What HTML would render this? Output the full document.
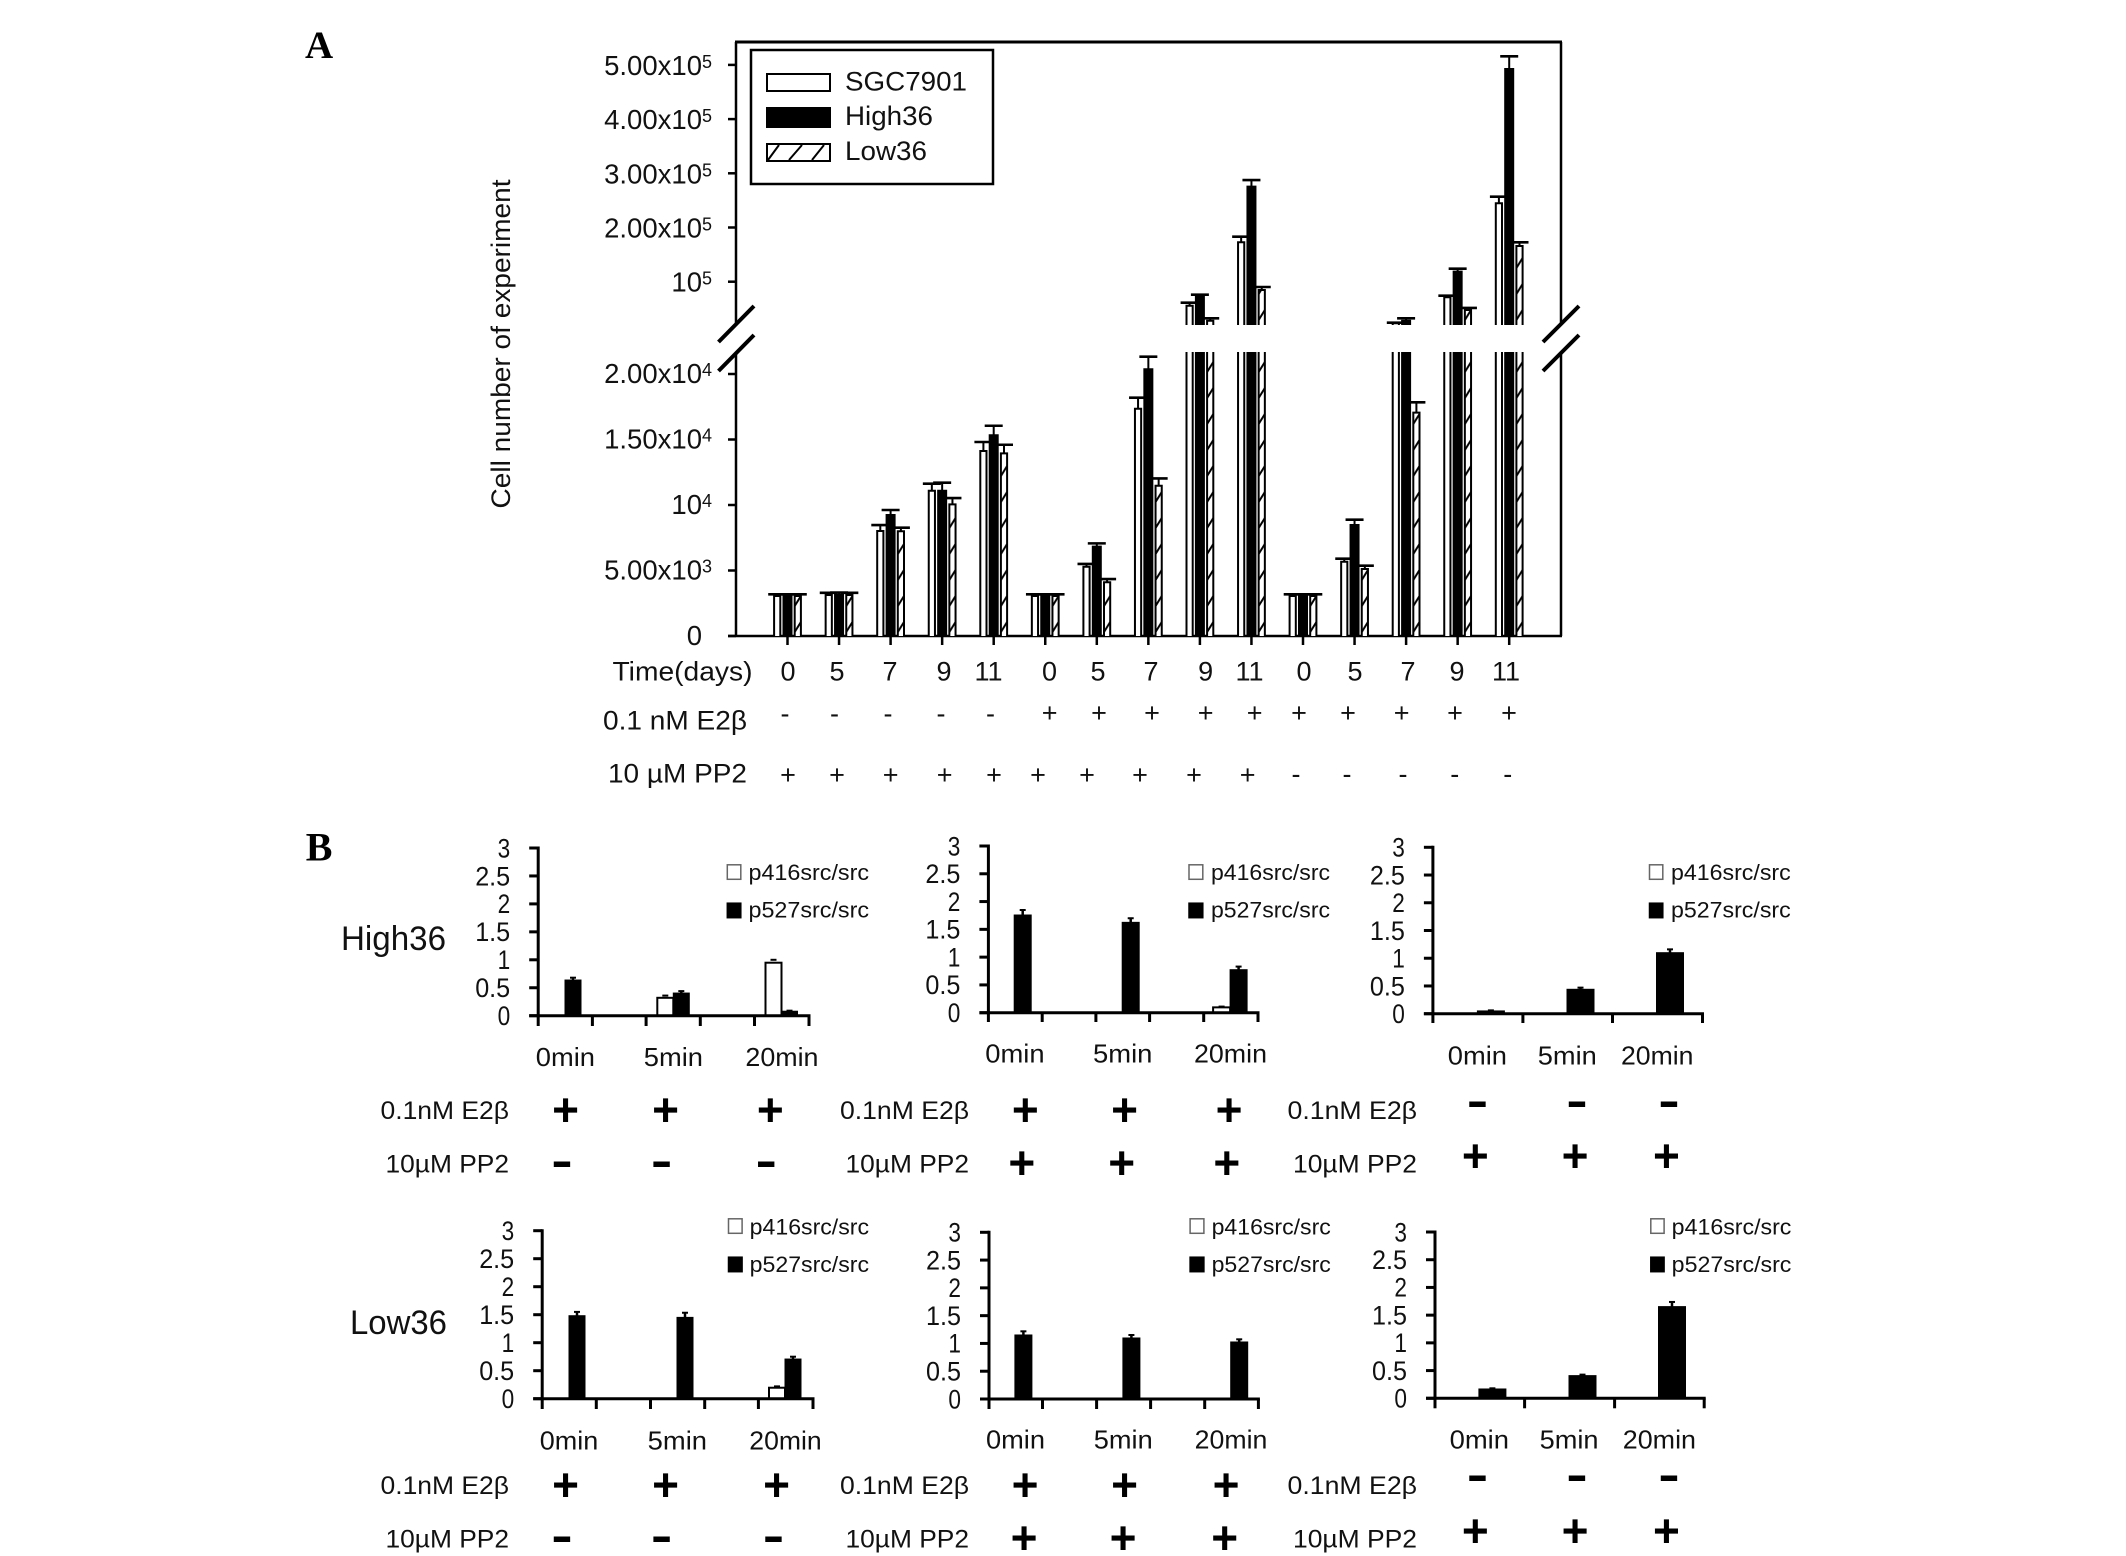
<!DOCTYPE html>
<html lang="en">
<head>
<meta charset="utf-8">
<title>Cell number and Src phosphorylation charts</title>
<style>
html,body{margin:0;padding:0;background:#fff;}
svg{display:block;font-family:"Liberation Sans",Arial,sans-serif;fill:#111;}
.p{font-size:27px;text-anchor:middle;}
.h{font-size:27px;text-anchor:middle;}
.pb{font-size:46px;font-weight:bold;text-anchor:middle;fill:#000;}
.mb{font-size:46px;font-weight:bold;text-anchor:middle;fill:#000;}
.lab{font-size:25px;}
.lt{font-size:22.5px;}
.pl{font-family:"Liberation Serif",serif;font-weight:bold;fill:#000;}
</style>
</head>
<body>
<svg id="fig" width="2126" height="1556" viewBox="0 0 2126 1556">
<rect x="0" y="0" width="2126" height="1556" fill="#fff"/>
<defs id="defs"></defs>

<text class="pl" x="305" y="58" font-size="39">A</text>
<text class="pl" x="305.7" y="860.7" font-size="40">B</text>

<text transform="rotate(-90 510 344)" x="510" y="344" font-size="26.5" text-anchor="middle" textLength="329" lengthAdjust="spacingAndGlyphs">Cell number of experiment</text>

<g id="panelA"></g>

<g>
<rect x="751" y="50" width="242" height="134" fill="#fff" stroke="#000" stroke-width="2.5"/>
<rect x="767" y="74" width="63" height="17" fill="#fff" stroke="#000" stroke-width="2"/>
<rect x="767" y="108" width="63" height="19" fill="#000" stroke="#000" stroke-width="2"/>
<rect x="767" y="144" width="63" height="17" fill="#fff" stroke="#000" stroke-width="2"/>
<path d="M768 160L779 145M789 160L802 145M812 160L824 145" stroke="#000" stroke-width="2" fill="none"/>
<text x="845" y="90.7" font-size="27" textLength="122" lengthAdjust="spacingAndGlyphs">SGC7901</text>
<text x="845" y="125" font-size="27" textLength="88" lengthAdjust="spacingAndGlyphs">High36</text>
<text x="845" y="160" font-size="27" textLength="82" lengthAdjust="spacingAndGlyphs">Low36</text>
</g>

<g font-size="27">
<text x="612.5" y="680.7" textLength="140" lengthAdjust="spacingAndGlyphs">Time(days)</text>
<text class="p" x="788" y="680.7">0</text>
<text class="p" x="837" y="680.7">5</text>
<text class="p" x="890" y="680.7">7</text>
<text class="p" x="944" y="680.7">9</text>
<text class="p" x="988.5" y="680.7">11</text>
<text class="p" x="1049.5" y="680.7">0</text>
<text class="p" x="1098" y="680.7">5</text>
<text class="p" x="1151" y="680.7">7</text>
<text class="p" x="1205.7" y="680.7">9</text>
<text class="p" x="1249.5" y="680.7">11</text>
<text class="p" x="1304" y="680.7">0</text>
<text class="p" x="1355" y="680.7">5</text>
<text class="p" x="1408" y="680.7">7</text>
<text class="p" x="1457" y="680.7">9</text>
<text class="p" x="1506" y="680.7">11</text>
</g>

<g>
<text x="603" y="729.3" font-size="27" textLength="144" lengthAdjust="spacingAndGlyphs">0.1 nM E2β</text>
<text class="h" x="785" y="722.5">-</text>
<text class="h" x="834.5" y="722.5">-</text>
<text class="h" x="888" y="722.5">-</text>
<text class="h" x="941" y="722.5">-</text>
<text class="h" x="990.5" y="722.5">-</text>
<text class="p" x="1049.7" y="722">+</text>
<text class="p" x="1099" y="722">+</text>
<text class="p" x="1152" y="722">+</text>
<text class="p" x="1205.7" y="722">+</text>
<text class="p" x="1254.6" y="722">+</text>
<text class="p" x="1299" y="722">+</text>
<text class="p" x="1348" y="722">+</text>
<text class="p" x="1401.7" y="722">+</text>
<text class="p" x="1455" y="722">+</text>
<text class="p" x="1509" y="722">+</text>
</g>

<g>
<text x="608" y="782.7" font-size="27" textLength="139" lengthAdjust="spacingAndGlyphs">10 µM PP2</text>
<text class="p" x="788" y="783.8">+</text>
<text class="p" x="837" y="783.8">+</text>
<text class="p" x="890.6" y="783.8">+</text>
<text class="p" x="944.7" y="783.8">+</text>
<text class="p" x="994" y="783.8">+</text>
<text class="p" x="1038" y="783.8">+</text>
<text class="p" x="1087" y="783.8">+</text>
<text class="p" x="1140" y="783.8">+</text>
<text class="p" x="1194" y="783.8">+</text>
<text class="p" x="1247.7" y="783.8">+</text>
<text class="h" x="1296" y="783.2">-</text>
<text class="h" x="1347" y="783.2">-</text>
<text class="h" x="1403" y="783.2">-</text>
<text class="h" x="1454.7" y="783.2">-</text>
<text class="h" x="1507.7" y="783.2">-</text>
</g>

<text x="341" y="950" font-size="34" textLength="105" lengthAdjust="spacingAndGlyphs">High36</text>
<text x="350" y="1334" font-size="34" textLength="97" lengthAdjust="spacingAndGlyphs">Low36</text>

<g id="panelB"></g>

<g>
<text class="lab" x="380.5" y="1119" textLength="128.5" lengthAdjust="spacingAndGlyphs">0.1nM E2β</text>
<text class="lab" x="385.5" y="1172.7" textLength="123.5" lengthAdjust="spacingAndGlyphs">10µM PP2</text>
<text class="pb" x="565.5" y="1125.3">+</text>
<text class="pb" x="665.5" y="1125.3">+</text>
<text class="pb" x="770.3" y="1125.3">+</text>
<text class="mb" x="562" y="1176.3" textLength="21.5" lengthAdjust="spacingAndGlyphs">-</text>
<text class="mb" x="661.6" y="1176.3" textLength="21.5" lengthAdjust="spacingAndGlyphs">-</text>
<text class="mb" x="766.3" y="1176.3" textLength="21.5" lengthAdjust="spacingAndGlyphs">-</text>

<text class="lab" x="840" y="1119" textLength="129" lengthAdjust="spacingAndGlyphs">0.1nM E2β</text>
<text class="lab" x="845.5" y="1172.7" textLength="123.5" lengthAdjust="spacingAndGlyphs">10µM PP2</text>
<text class="pb" x="1025.3" y="1125.3">+</text>
<text class="pb" x="1124.5" y="1125.3">+</text>
<text class="pb" x="1229" y="1125.3">+</text>
<text class="pb" x="1021.8" y="1178.7">+</text>
<text class="pb" x="1121.7" y="1178.7">+</text>
<text class="pb" x="1226.8" y="1178.7">+</text>

<text class="lab" x="1287.5" y="1119" textLength="129.5" lengthAdjust="spacingAndGlyphs">0.1nM E2β</text>
<text class="lab" x="1293" y="1172.7" textLength="124" lengthAdjust="spacingAndGlyphs">10µM PP2</text>
<text class="mb" x="1477.5" y="1116.3" textLength="21.5" lengthAdjust="spacingAndGlyphs">-</text>
<text class="mb" x="1577" y="1116.3" textLength="21.5" lengthAdjust="spacingAndGlyphs">-</text>
<text class="mb" x="1669" y="1116.3" textLength="21.5" lengthAdjust="spacingAndGlyphs">-</text>
<text class="pb" x="1475.3" y="1171.7">+</text>
<text class="pb" x="1575" y="1171.7">+</text>
<text class="pb" x="1666.4" y="1171.7">+</text>
</g>

<g>
<text class="lab" x="380.5" y="1494" textLength="128.5" lengthAdjust="spacingAndGlyphs">0.1nM E2β</text>
<text class="lab" x="385.5" y="1547.7" textLength="123.5" lengthAdjust="spacingAndGlyphs">10µM PP2</text>
<text class="pb" x="565.5" y="1500.3">+</text>
<text class="pb" x="665.5" y="1500.3">+</text>
<text class="pb" x="776.6" y="1500.3">+</text>
<text class="mb" x="562" y="1551.3" textLength="21.5" lengthAdjust="spacingAndGlyphs">-</text>
<text class="mb" x="661.6" y="1551.3" textLength="21.5" lengthAdjust="spacingAndGlyphs">-</text>
<text class="mb" x="773.5" y="1551.3" textLength="21.5" lengthAdjust="spacingAndGlyphs">-</text>

<text class="lab" x="840" y="1494" textLength="129" lengthAdjust="spacingAndGlyphs">0.1nM E2β</text>
<text class="lab" x="845.5" y="1547.7" textLength="123.5" lengthAdjust="spacingAndGlyphs">10µM PP2</text>
<text class="pb" x="1025" y="1500.3">+</text>
<text class="pb" x="1124.5" y="1500.3">+</text>
<text class="pb" x="1226" y="1500.3">+</text>
<text class="pb" x="1024" y="1553.7">+</text>
<text class="pb" x="1123" y="1553.7">+</text>
<text class="pb" x="1224.7" y="1553.7">+</text>

<text class="lab" x="1287.5" y="1494" textLength="129.5" lengthAdjust="spacingAndGlyphs">0.1nM E2β</text>
<text class="lab" x="1293" y="1547.7" textLength="124" lengthAdjust="spacingAndGlyphs">10µM PP2</text>
<text class="mb" x="1477.5" y="1490.7" textLength="21.5" lengthAdjust="spacingAndGlyphs">-</text>
<text class="mb" x="1577" y="1490.7" textLength="21.5" lengthAdjust="spacingAndGlyphs">-</text>
<text class="mb" x="1669" y="1490.7" textLength="21.5" lengthAdjust="spacingAndGlyphs">-</text>
<text class="pb" x="1475.3" y="1546.7">+</text>
<text class="pb" x="1575" y="1546.7">+</text>
<text class="pb" x="1666.4" y="1546.7">+</text>
</g>
</svg>

<script>
/* Panel A data: 15 groups */
const sgcMean  = [3050,3130,8015,11090,14120,3050,5290,17350,55720,172700,3050,5670,23250,71200,244700];
const sgcCap   = [3180,3300,8470,11630,14810,3180,5500,18190,61250,183000,3180,5900,24400,74200,256800];
const highMean = [3050,3130,9237,11090,15320,3050,6820,20360,72320,275300,3050,8470,28000,118500,492400];
const highCap  = [3180,3320,9618,11700,16050,3180,7070,21320,76000,287600,3180,8880,32500,124000,515800];
const lowMean  = [3050,3130,7992,10050,13940,3050,4100,11470,28000,84700,3050,5110,17050,47800,165900];
const lowCap   = [3180,3300,8270,10530,14600,3180,4350,12030,32500,90200,3180,5370,17840,51500,172700];
const lowerTicks = [0,5000,10000,15000,20000];
const lowerBaseLabels = ['0','5.00x10','10','1.50x10','2.00x10'];
const lowerExpLabels = ['','3','4','4','4'];
const upperTicks = [100000,200000,300000,400000,500000];
const upperBaseLabels = ['10','2.00x10','3.00x10','4.00x10','5.00x10'];
const upperExpLabels = ['5','5','5','5','5'];

/* Panel B data */
const bTicks = [0,0.5,1,1.5,2,2.5,3];
const bTickLabels = ['0','0.5','1','1.5','2','2.5','3'];
const bCategories = ['0min','5min','20min'];
const legendEntries = ['p416src/src','p527src/src'];
const highA416 = [0,0.32,0.948];
const highA416Err = [0,0.36,1.0];
const highA527 = [0.638,0.405,0.08];
const highA527Err = [0.68,0.44,0.09];
const highB416 = [0,0,0.096];
const highB416Err = [0,0,0.11];
const highB527 = [1.758,1.626,0.774];
const highB527Err = [1.848,1.70,0.83];
const highC416 = [0,0,0];
const highC416Err = [0,0,0];
const highC527 = [0.05,0.44,1.10];
const highC527Err = [0.06,0.47,1.16];
const lowA416 = [0,0,0.196];
const lowA416Err = [0,0,0.22];
const lowA527 = [1.482,1.452,0.708];
const lowA527Err = [1.55,1.535,0.75];
const lowB416 = [0,0,0];
const lowB416Err = [0,0,0];
const lowB527 = [1.152,1.098,1.026];
const lowB527Err = [1.218,1.152,1.074];
const lowC416 = [0,0,0];
const lowC416Err = [0,0,0];
const lowC527 = [0.168,0.409,1.654];
const lowC527Err = [0.18,0.427,1.738];

const NS = 'http://www.w3.org/2000/svg';
function mk(parent, tag, attrs, text){
  const el = document.createElementNS(NS, tag);
  for (const k in attrs) el.setAttribute(k, attrs[k]);
  if (text !== undefined) el.textContent = text;
  parent.appendChild(el);
  return el;
}

/* ---------- Panel A ---------- */
const AX = {left:736, right:1561, top:42, base:636, breakLow:352, breakHigh:325, first:787.5, step:51.55, off:10.3};
const breakValue = 21700;
function yLower(v){ return AX.base - v*65.5/5000; }
function yUpper(v){ return 281.7 - (v-100000)*54.2/100000; }
function yA(v){ return v <= breakValue ? yLower(v) : yUpper(v); }
function xGroup(i){ return AX.first + AX.step*i; }

const A = document.getElementById('panelA');
const defs = document.getElementById('defs');

function aLine(name, x1, y1, x2, y2, sw){
  const el = mk(A, 'line', {x1:x1, y1:y1, x2:x2, y2:y2, stroke:'#000', 'stroke-width':sw});
  
  
  return el;
}
aLine('plot-top-border', AX.left-1, AX.top, AX.right+1, AX.top, 3);
aLine('y-axis-upper', AX.left, AX.top, AX.left, AX.breakHigh, 2.5);
aLine('y-axis-lower', AX.left, AX.breakLow, AX.left, AX.base, 2.5);
aLine('right-border-upper', AX.right, AX.top, AX.right, AX.breakHigh, 2.5);
aLine('right-border-lower', AX.right, AX.breakLow, AX.right, AX.base, 2.5);
aLine('x-axis', 728, AX.base, AX.right+1, AX.base, 2.5);
aLine('left-break-mark-upper', 718.5, 342, 754, 306, 4);
aLine('left-break-mark-lower', 718.5, 371, 754, 335, 4);
aLine('right-break-mark-upper', 1543, 342, 1579, 306, 4);
aLine('right-break-mark-lower', 1543, 371, 1579, 335, 4);

function aTick(yPos, base, exp, dy){
  aLine('y-tick', 728, yPos, AX.left, yPos, 2.5);
  const t = mk(A, 'text', {x: exp ? 702 : 702, y: yPos+dy, 'font-size':27.5, 'text-anchor':'end'}, base);
  
  
  if (exp) {
    const s = mk(A, 'text', {x: 702, y: yPos+dy-7, 'font-size':18}, exp);
    
    
  }
}
lowerTicks.forEach(function(v,i){ aTick(yLower(v), lowerBaseLabels[i], lowerExpLabels[i], 9); });
upperTicks.forEach(function(v,i){ aTick(yUpper(v), upperBaseLabels[i], upperExpLabels[i], 10); });

for (let i = 0; i < sgcMean.length; i++) {
  aLine('x-tick', xGroup(i), AX.base, xGroup(i), 645, 2.5);
}

function drawBar(name, i, s, mean, cap, kind){
  const w = kind === 'black' ? 8 : 6.2;
  const xc = xGroup(i) + (s-1)*AX.off;
  const xl = xc - w/2;
  let fill = kind === 'black' ? '#000' : '#fff';
  if (kind === 'hatch') {
    const pat = mk(defs, 'pattern', {id:'h'+i, patternUnits:'userSpaceOnUse', x:xl, y:AX.base, width:w, height:26});
    
    
    const bg = mk(pat, 'rect', {x:0, y:0, width:w, height:26, fill:'#fff'});
    
    
    const sl = mk(pat, 'line', {x1:0, y1:22, x2:w, y2:12, stroke:'#000', 'stroke-width':2});
    
    
    fill = 'url(#h'+i+')';
  }
  const top = yA(mean);
  let d, fillPath;
  if (mean > breakValue) {
    d = 'M'+xl+' '+AX.base+'V'+AX.breakLow+'M'+(xl+w)+' '+AX.breakLow+'V'+AX.base+
        'M'+xl+' '+AX.breakHigh+'V'+top+'H'+(xl+w)+'V'+AX.breakHigh;
    fillPath = 'M'+xl+' '+AX.base+'V'+AX.breakLow+'H'+(xl+w)+'V'+AX.base+'Z'+
               'M'+xl+' '+AX.breakHigh+'V'+top+'H'+(xl+w)+'V'+AX.breakHigh+'Z';
  } else {
    d = 'M'+xl+' '+AX.base+'V'+top+'H'+(xl+w)+'V'+AX.base;
    fillPath = d+'Z';
  }
  const f = mk(A, 'path', {d:fillPath, fill:fill, stroke:'none'});
  
  
  const o = mk(A, 'path', {d:d, fill:'none', stroke:'#000', 'stroke-width':2});
  
  
  const yc = yA(cap);
  aLine(name+'-error-stem', xc, top, xc, yc, 2);
  aLine(name+'-error-cap', xc-9, yc, xc+9, yc, 2.6);
}
for (let i = 0; i < sgcMean.length; i++) {
  drawBar('sgc7901', i, 0, sgcMean[i], sgcCap[i], 'white');
  drawBar('high36', i, 1, highMean[i], highCap[i], 'black');
  drawBar('low36', i, 2, lowMean[i], lowCap[i], 'hatch');
}

/* ---------- Panel B ---------- */
const B = document.getElementById('panelB');
const panels = [
 {id:'high36-e2', axis:538.2, y0:1015.7, y3:848, xTicks:[538.2,592.4,646.1,700.3,754.5,809], tickEnd:1026, centers:[573,681.3,789.5], w:16,
  catBase:1066, catSpans:[[535.8,595],[643.8,703],[745.4,818.5]],
  legSq:726.8, legSqW:14.5, legX:748.5, legW:120.5, legY:[864.3,902.7], legBase:[880,917.7],
  white:highA416, whiteErr:highA416Err, black:highA527, blackErr:highA527Err},
 {id:'high36-e2-pp2', axis:988.4, y0:1012.7, y3:846, xTicks:[988.4,1042.2,1095.9,1149.6,1203.7,1258], tickEnd:1022, centers:[1022.7,1130.7,1238.6], w:17,
  catBase:1062.7, catSpans:[[985.3,1044.6],[1093,1152.4],[1194,1267]],
  legSq:1188.5, legSqW:14.8, legX:1211, legW:119, legY:[864.3,902.7], legBase:[880,917.7],
  white:highB416, whiteErr:highB416Err, black:highB527, blackErr:highB527Err},
 {id:'high36-pp2', axis:1432.9, y0:1013.7, y3:847.3, xTicks:[1432.9,1522.9,1612.5,1702.5], tickEnd:1023, centers:[1490.9,1580.5,1670], w:27,
  catBase:1064.3, catSpans:[[1447.8,1507],[1537.8,1596.8],[1621,1693.5]],
  legSq:1649, legSqW:14.3, legX:1671, legW:119.7, legY:[864.3,902.7], legBase:[880,917.7],
  white:highC416, whiteErr:highC416Err, black:highC527, blackErr:highC527Err},
 {id:'low36-e2', axis:542.2, y0:1398.7, y3:1230.7, xTicks:[542.2,596.3,650.5,704.7,758.4,813], tickEnd:1409, centers:[577,685,793], w:16,
  catBase:1449.3, catSpans:[[539.8,598.3],[647.7,707],[749.3,821.7]],
  legSq:728, legSqW:14.6, legX:749.7, legW:119.3, legY:[1218.3,1256.7], legBase:[1234.3,1272],
  white:lowA416, whiteErr:lowA416Err, black:lowA527, blackErr:lowA527Err},
 {id:'low36-e2-pp2', axis:989, y0:1399, y3:1232.3, xTicks:[989,1042.5,1096.6,1150.6,1204.7,1258.4], tickEnd:1409, centers:[1023.4,1131.4,1239.2], w:17,
  catBase:1448.7, catSpans:[[986,1045],[1093.8,1152.7],[1194.7,1267.4]],
  legSq:1189.6, legSqW:14.8, legX:1211.6, legW:119.2, legY:[1218.3,1256.7], legBase:[1234.3,1272],
  white:lowB416, whiteErr:lowB416Err, black:lowB527, blackErr:lowB527Err},
 {id:'low36-pp2', axis:1435, y0:1398.3, y3:1232, xTicks:[1435,1524.6,1614.6,1704.2], tickEnd:1408.3, centers:[1492.4,1582.5,1672], w:27,
  catBase:1448.3, catSpans:[[1449.6,1509],[1539.6,1598.5],[1622.8,1696]],
  legSq:1650.3, legSqW:14.3, legX:1671.7, legW:119.7, legY:[1218.3,1256.7], legBase:[1234.3,1272],
  white:lowC416, whiteErr:lowC416Err, black:lowC527, blackErr:lowC527Err}
];

function bLine(g, name, x1, y1, x2, y2, sw){
  const el = mk(g, 'line', {x1:x1, y1:y1, x2:x2, y2:y2, stroke:'#000', 'stroke-width':sw});
  
  
  return el;
}

function drawPanel(p){
  const g = mk(B, 'g', {});
  
  
  const y = function(v){ return p.y0 + (p.y3-p.y0)*v/3; };

  function bar(name, xl, v, err, fill){
    const top = y(v);
    const r = mk(g, 'rect', {x:xl, y:top, width:p.w, height:Math.max(p.y0-top,0), fill:fill, stroke:'#000', 'stroke-width':fill==='#000'?1:2});
    
    
    if (err > v) {
      const xc = xl + p.w/2;
      const yErr = y(err);
      bLine(g, name+'-error-stem', xc, top-(yErr-top)*(fill==='#fff'?-1:0), xc, yErr, 2.5);
      bLine(g, name+'-error-cap', xc-3, yErr, xc+3, yErr, 2);
    }
  }
  p.centers.forEach(function(c,i){
    bar('p416src', c-p.w*1.5, p.white[i], p.whiteErr[i], '#fff');
    bar('p527src', c-p.w/2, p.black[i], p.blackErr[i], '#000');
  });

  bLine(g, 'y-axis', p.axis, p.y3-1.5, p.axis, p.y0+1.5, 3);
  bLine(g, 'x-axis', p.axis-9, p.y0, p.xTicks[p.xTicks.length-1]+1.5, p.y0, 3);
  bTicks.forEach(function(v,i){
    bLine(g, 'y-tick', p.axis-9, y(v), p.axis, y(v), 3);
    const label = bTickLabels[i];
    const t = mk(g, 'text', {x:p.axis-28, y:y(v)+9.3, 'font-size':27, 'text-anchor':'end', textLength:label.length>1?35:12.6, lengthAdjust:'spacingAndGlyphs'}, label);
    
    
  });
  p.xTicks.forEach(function(x){
    bLine(g, 'x-tick', x, p.y0, x, p.tickEnd, 3);
  });
  bCategories.forEach(function(c,i){
    const s = p.catSpans[i];
    const t = mk(g, 'text', {x:s[0], y:p.catBase, 'font-size':26, textLength:s[1]-s[0], lengthAdjust:'spacingAndGlyphs'}, c);
    
    
  });
  legendEntries.forEach(function(name,i){
    const r = mk(g, 'rect', {x:p.legSq+0.5, y:p.legY[i]+0.5, width:p.legSqW-1, height:14.5, fill:i===0?'#fff':'#000', stroke:i===0?'#666':'#000', 'stroke-width':1.5});
    
    
    const t = mk(g, 'text', {'class':'lt', x:p.legX, y:p.legBase[i], textLength:p.legW, lengthAdjust:'spacingAndGlyphs'}, name);
    
    
  });
}
panels.forEach(drawPanel);
</script>
</body>
</html>
